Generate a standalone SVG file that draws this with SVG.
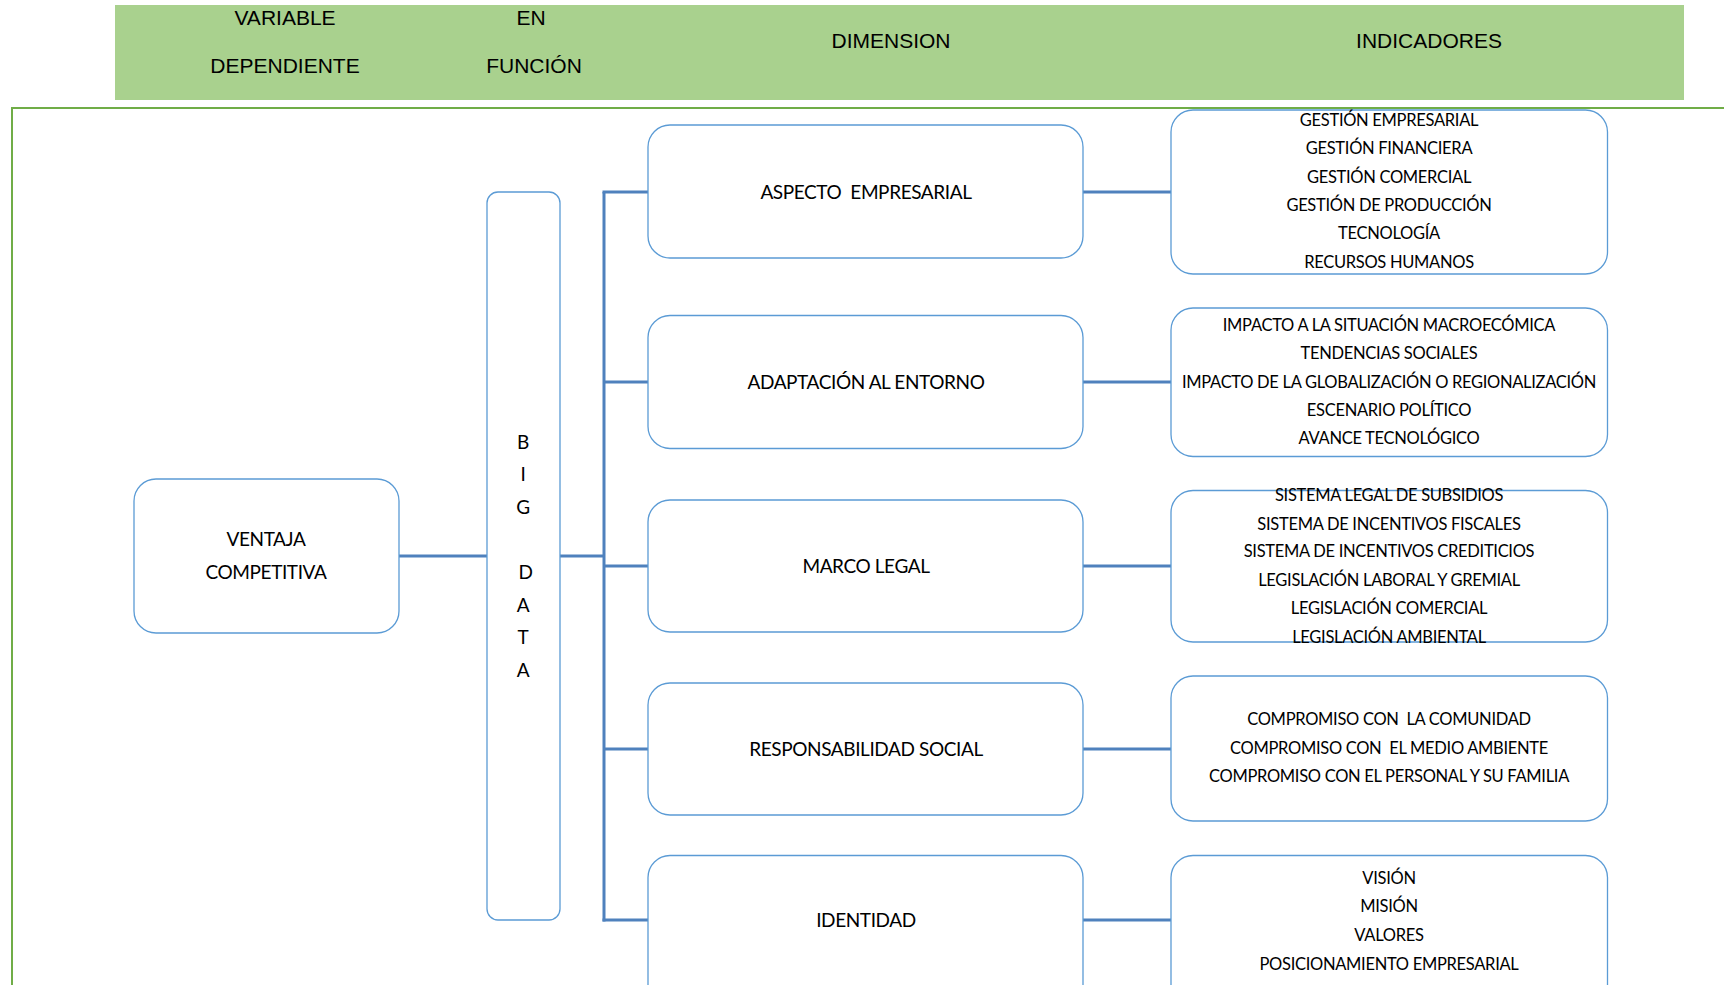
<svg xmlns="http://www.w3.org/2000/svg" width="1724" height="985" viewBox="0 0 1724 985">
<style>
.hdr{font-family:"Liberation Sans",Arial,sans-serif;font-size:21px;fill:#000;text-anchor:middle}
.box{fill:#fff;stroke:#5b9bd5;stroke-width:1.3}
.lbl{font-family:Lato,"Liberation Sans",sans-serif;font-size:19px;letter-spacing:-0.4px;fill:#000;text-anchor:middle}
.ind{font-family:Lato,"Liberation Sans",sans-serif;font-size:16.5px;letter-spacing:-0.3px;fill:#000;text-anchor:middle}
.con{stroke:#4f81bd;stroke-width:3;fill:none}
</style>
<rect width="1724" height="985" fill="#fff"/>
<g id="header">
<rect x="115" y="5" width="1569" height="95" fill="#a9d18e"/>
<text class="hdr" x="285" y="25">VARIABLE</text>
<text class="hdr" x="285" y="73">DEPENDIENTE</text>
<text class="hdr" x="531" y="25">EN</text>
<text class="hdr" x="534" y="73">FUNCIÓN</text>
<text class="hdr" x="891" y="48">DIMENSION</text>
<text class="hdr" x="1429" y="48">INDICADORES</text>
</g>
<rect id="frame" x="12" y="108" width="1740" height="900" fill="none" stroke="#70ad47" stroke-width="2"/>
<g id="connectors">
<line class="con" x1="399" y1="556" x2="487" y2="556"/>
<line class="con" x1="560" y1="556" x2="604" y2="556"/>
<line class="con" x1="604" y1="192" x2="604" y2="921.5"/>
<line class="con" x1="602.5" y1="192" x2="648" y2="192"/>
<line class="con" x1="604" y1="382" x2="648" y2="382"/>
<line class="con" x1="604" y1="566" x2="648" y2="566"/>
<line class="con" x1="604" y1="749" x2="648" y2="749"/>
<line class="con" x1="602.5" y1="920" x2="648" y2="920"/>
<line class="con" x1="1083" y1="192" x2="1171" y2="192"/>
<line class="con" x1="1083" y1="382" x2="1171" y2="382"/>
<line class="con" x1="1083" y1="566" x2="1171" y2="566"/>
<line class="con" x1="1083" y1="749" x2="1171" y2="749"/>
<line class="con" x1="1083" y1="920" x2="1171" y2="920"/>
</g>
<g id="ventaja">
<rect class="box" x="134" y="479" width="265" height="154" rx="22"/>
<text class="lbl" x="266" y="546">VENTAJA</text>
<text class="lbl" x="266" y="579">COMPETITIVA</text>
</g>
<g id="bigdata">
<rect class="box" x="487" y="192" width="73" height="728" rx="11"/>
<text class="lbl" x="523" y="449">B</text>
<text class="lbl" x="523" y="481">I</text>
<text class="lbl" x="523" y="514">G</text>
<text class="lbl" x="525.5" y="579">D</text>
<text class="lbl" x="523" y="612">A</text>
<text class="lbl" x="523" y="644">T</text>
<text class="lbl" x="523" y="677">A</text>
</g>
<g id="dim1">
<rect class="box" x="648" y="125" width="435" height="133" rx="22"/>
<text class="lbl" x="866" y="199" xml:space="preserve">ASPECTO  EMPRESARIAL</text>
</g>
<g id="dim2">
<rect class="box" x="648" y="315.5" width="435" height="133" rx="22"/>
<text class="lbl" x="866" y="389">ADAPTACIÓN AL ENTORNO</text>
</g>
<g id="dim3">
<rect class="box" x="648" y="500" width="435" height="132" rx="22"/>
<text class="lbl" x="866" y="573">MARCO LEGAL</text>
</g>
<g id="dim4">
<rect class="box" x="648" y="683" width="435" height="132" rx="22"/>
<text class="lbl" x="866" y="756">RESPONSABILIDAD SOCIAL</text>
</g>
<g id="dim5">
<rect class="box" x="648" y="855.5" width="435" height="160" rx="22"/>
<text class="lbl" x="866" y="927">IDENTIDAD</text>
</g>
<g id="ind1">
<rect class="box" x="1171" y="110" width="436.5" height="164" rx="22"/>
<text class="ind" x="1389" y="126">GESTIÓN EMPRESARIAL</text>
<text class="ind" x="1389" y="154">GESTIÓN FINANCIERA</text>
<text class="ind" x="1389" y="183">GESTIÓN COMERCIAL</text>
<text class="ind" x="1389" y="211">GESTIÓN DE PRODUCCIÓN</text>
<text class="ind" x="1389" y="239">TECNOLOGÍA</text>
<text class="ind" x="1389" y="268">RECURSOS HUMANOS</text>
</g>
<g id="ind2">
<rect class="box" x="1171" y="308" width="436.5" height="148.5" rx="22"/>
<text class="ind" x="1389" y="330.5">IMPACTO A LA SITUACIÓN MACROECÓMICA</text>
<text class="ind" x="1389" y="359">TENDENCIAS SOCIALES</text>
<text class="ind" x="1389" y="388">IMPACTO DE LA GLOBALIZACIÓN O REGIONALIZACIÓN</text>
<text class="ind" x="1389" y="416">ESCENARIO POLÍTICO</text>
<text class="ind" x="1389" y="444">AVANCE TECNOLÓGICO</text>
</g>
<g id="ind3">
<rect class="box" x="1171" y="490.5" width="436.5" height="151.5" rx="22"/>
<text class="ind" x="1389" y="501">SISTEMA LEGAL DE SUBSIDIOS</text>
<text class="ind" x="1389" y="529.5">SISTEMA DE INCENTIVOS FISCALES</text>
<text class="ind" x="1389" y="557">SISTEMA DE INCENTIVOS CREDITICIOS</text>
<text class="ind" x="1389" y="585.5">LEGISLACIÓN LABORAL Y GREMIAL</text>
<text class="ind" x="1389" y="614">LEGISLACIÓN COMERCIAL</text>
<text class="ind" x="1389" y="642.5">LEGISLACIÓN AMBIENTAL</text>
</g>
<g id="ind4">
<rect class="box" x="1171" y="676" width="436.5" height="145" rx="22"/>
<text class="ind" x="1389" y="725" xml:space="preserve">COMPROMISO CON  LA COMUNIDAD</text>
<text class="ind" x="1389" y="754" xml:space="preserve">COMPROMISO CON  EL MEDIO AMBIENTE</text>
<text class="ind" x="1389" y="782">COMPROMISO CON EL PERSONAL Y SU FAMILIA</text>
</g>
<g id="ind5">
<rect class="box" x="1171" y="855.5" width="436.5" height="160" rx="22"/>
<text class="ind" x="1389" y="883.5">VISIÓN</text>
<text class="ind" x="1389" y="912">MISIÓN</text>
<text class="ind" x="1389" y="941">VALORES</text>
<text class="ind" x="1389" y="969.5">POSICIONAMIENTO EMPRESARIAL</text>
</g>
</svg>
